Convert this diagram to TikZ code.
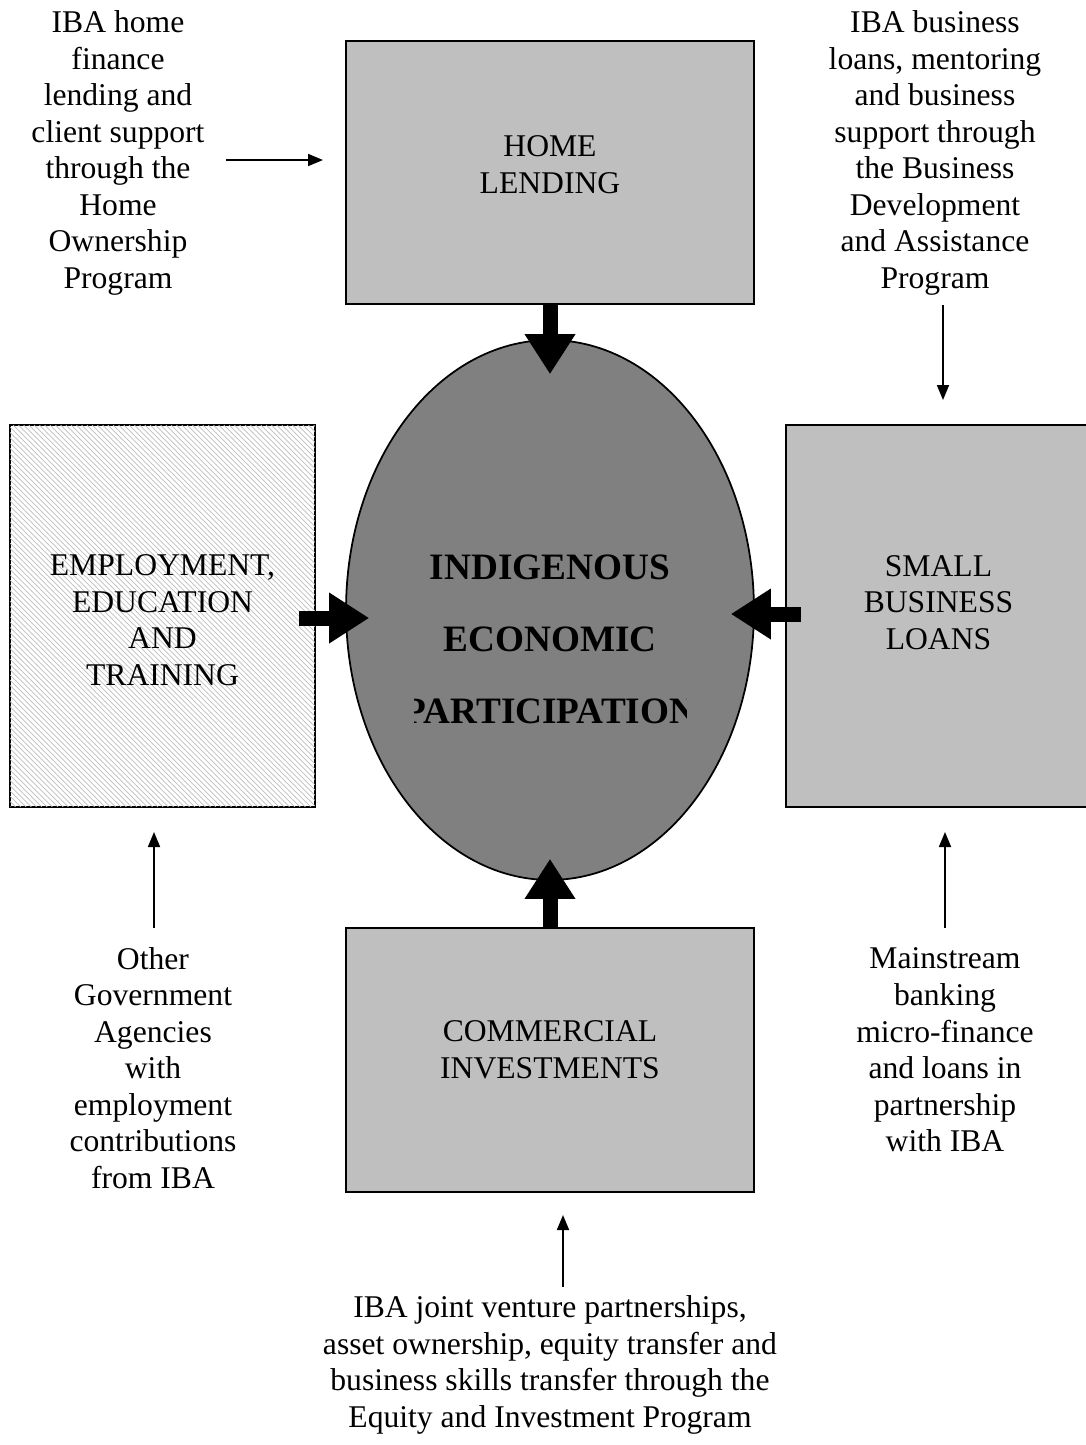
\documentclass[tikz,border=0pt]{standalone}
\usepackage{fontspec}
\setmainfont{Liberation Serif}
\usetikzlibrary{arrows.meta,patterns,positioning,shapes.geometric}

\tikzset{
  txt/.style={align=center,font=\fontsize{18}{20.8}\selectfont,inner sep=0pt},
  box/.style={draw,line width=1pt,fill=black!25},
  bigarrow/.style={line width=0.3cm,-{Triangle[length=0.8cm,width=0.96cm]}},
  thinarrow/.style={line width=1pt,-{Triangle[length=0.3cm,width=0.24cm]}}
}

\begin{document}
\begin{tikzpicture}[x=0.02cm,y=-0.02cm]
	\useasboundingbox (0,0) rectangle (1086,1445);

	\node[box,minimum width=8.16cm,minimum height=5.26cm] (home) at (550,172.5) {};
	\node[box,fill=white,postaction={pattern=north west lines,pattern color=black!25},
	      minimum width=6.1cm,minimum height=7.64cm] (employ) at (162.5,616) {};
	\node[box,minimum width=6.1cm,minimum height=7.64cm] (small) at (938.5,616) {};
	\node[box,minimum width=8.16cm,minimum height=5.28cm] (invest) at (550,1060) {};
	\node[txt] (hometxt) at ([yshift=0.16cm]home.center) {HOME\\LENDING};
	\node[txt] (employtxt) at ([yshift=-0.08cm]employ.center) {EMPLOYMENT,\\EDUCATION\\AND\\TRAINING};
	\node[txt] (smalltxt) at ([yshift=0.27cm]small.center) {SMALL\\BUSINESS\\LOANS};
	\node[txt] (investtxt) at ([yshift=0.2cm]invest.center) {COMMERCIAL\\INVESTMENTS};

	\node[draw,line width=1pt,fill=black!50,ellipse,minimum width=8.16cm,minimum height=10.8cm,inner sep=0pt] (core) at (550,610) {};
	\begin{scope}
	    \clip (414,500) rectangle (686,760);
	    \node[txt,font=\fontsize{21.2}{41}\selectfont\bfseries] (coretxt) at (550,639) {INDIGENOUS\\ECONOMIC\\PARTICIPATION};
	\end{scope}

	\node[txt] (homefin) at (118,153) {IBA home\\finance\\lending and\\client support\\through the\\Home\\Ownership\\Program};
	\node[txt] (bizloan) at (935,153) {IBA business\\loans, mentoring\\and business\\support through\\the Business\\Development\\and Assistance\\Program};
	\node[txt] (govt) at (153,1068) {Other\\Government\\Agencies\\with\\employment\\contributions\\from IBA};
	\node[txt] (mainbank) at (945,1050) {Mainstream\\banking\\micro-finance\\and loans in\\partnership\\with IBA};
	\node[txt] (equity) at (550,1365) {IBA joint venture partnerships,\\asset ownership, equity transfer and\\business skills transfer through the\\Equity and Investment Program};

	\draw[bigarrow,shorten >=-0.7cm] (home.south) -- (core.north);
	\draw[bigarrow,shorten <=-0.34cm,shorten >=-0.48cm] (employ.east |- 0,618) -- (core.west |- 0,618);
	\draw[bigarrow,shorten <=-0.32cm,shorten >=-0.48cm] (small.west |- 0,614) -- (core.east |- 0,614);
	\draw[bigarrow,shorten >=-0.44cm] (invest.north) -- (core.south);

	\coordinate (hf-a) at (226,160);
	\coordinate (hf-b) at (323,160);
	\coordinate (bl-a) at (943,305);
	\coordinate (bl-b) at (943,400);
	\coordinate (gv-a) at (154,928);
	\coordinate (gv-b) at (154,832);
	\coordinate (mb-a) at (945,928);
	\coordinate (mb-b) at (945,832);
	\coordinate (eq-a) at (563,1287);
	\coordinate (eq-b) at (563,1215);
	\draw[thinarrow] (hf-a) -- (hf-b);
	\draw[thinarrow] (bl-a) -- (bl-b);
	\draw[thinarrow] (gv-a) -- (gv-b);
	\draw[thinarrow] (mb-a) -- (mb-b);
	\draw[thinarrow] (eq-a) -- (eq-b);
\end{tikzpicture}
\end{document}
